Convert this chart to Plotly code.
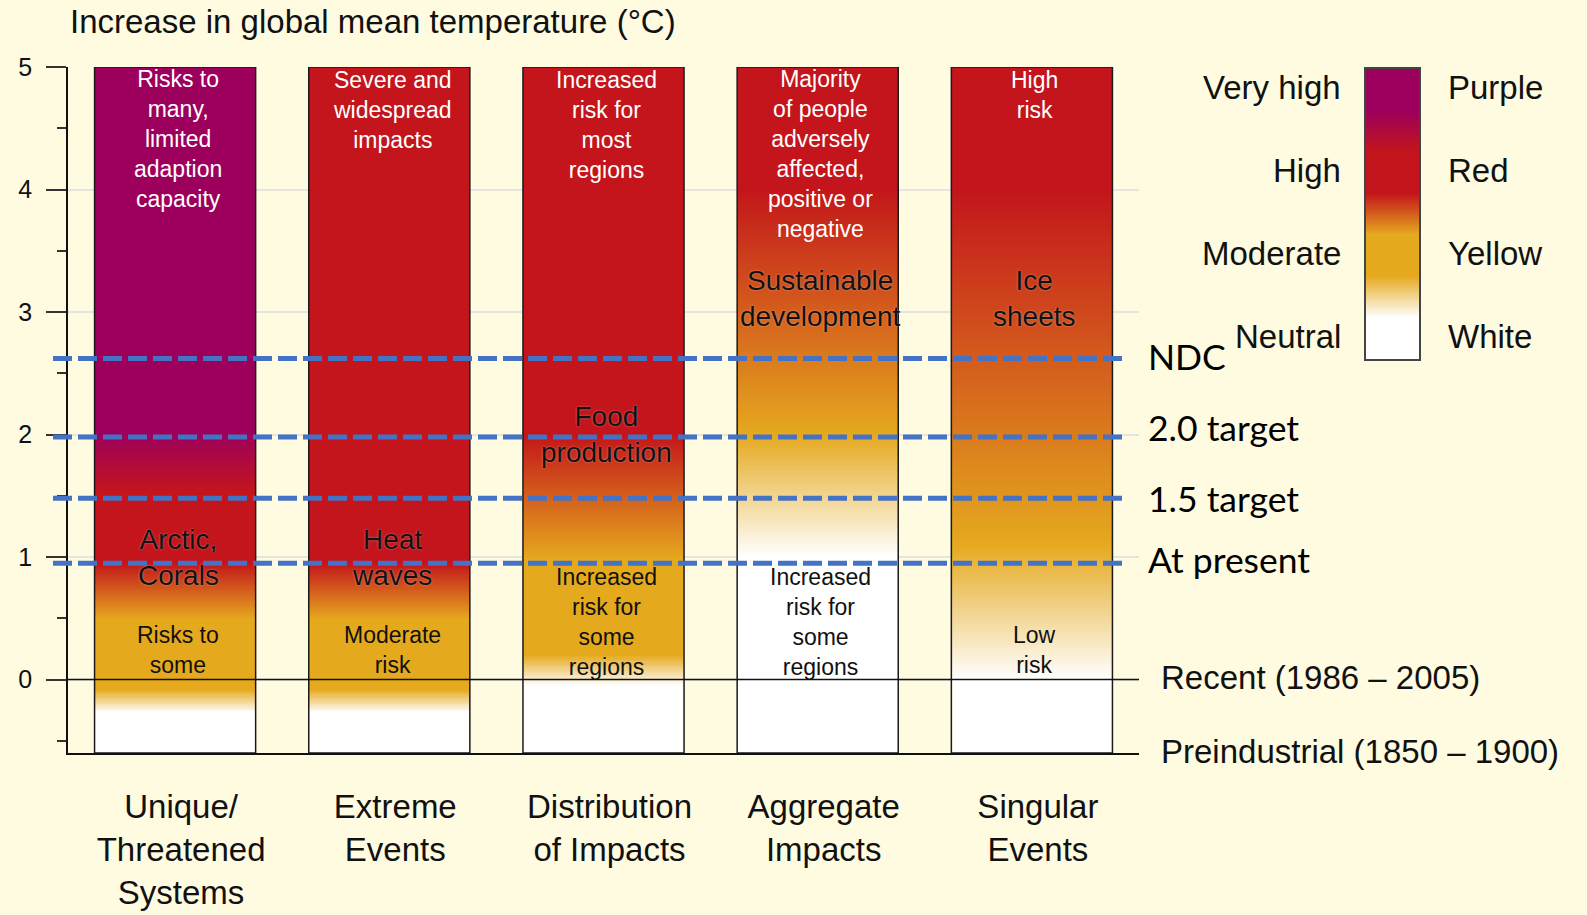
import numpy as np
import plotly.graph_objects as go

W, H = 1587, 915
BG = "#FEFBE1"
WHITE = "#FFFFFF"
YELLOW = "#E5A91E"
RED = "#C3151B"
PURPLE = "#9C005C"

# ---------------- data ----------------
categories = ["Unique/<br>Threatened<br>Systems", "Extreme<br>Events",
              "Distribution<br>of Impacts", "Aggregate<br>Impacts", "Singular<br>Events"]
T_BOTTOM, T_TOP = -0.6, 5.0
y_ticks = [0, 1, 2, 3, 4, 5]

# risk level knots (0 neutral/white, 1 moderate/yellow, 2 high/red, 3 very high/purple)
unique_T = [-0.6, -0.27, -0.08, 0.49, 0.95, 1.53, 2.01, 5.0]
unique_risk = [0, 0, 1, 1, 2, 2, 3, 3]
extreme_T = [-0.6, -0.27, -0.08, 0.49, 0.95, 5.0]
extreme_risk = [0, 0, 1, 1, 2, 2]
distribution_T = [-0.6, -0.05, 0.2, 0.98, 2.0, 5.0]
distribution_risk = [0, 0, 1, 1, 2, 2]
aggregate_T = [-0.6, 1.0, 2.0, 4.0, 5.0]
aggregate_risk = [0, 0, 1, 2, 2]
singular_T = [-0.6, 0.0, 1.1, 4.0, 5.0]
singular_risk = [0, 0, 1, 2, 2]

scenario_names = ["NDC", "2.0 target", "1.5 target", "At present"]
scenario_T = [2.62, 1.98, 1.48, 0.95]
scenario_label_T = [2.64, 2.06, 1.48, 0.98]

reference_names = ["Recent (1986 – 2005)", "Preindustrial (1850 – 1900)"]
reference_T = [0.02, -0.59]

legend_levels = ["Neutral", "Moderate", "High", "Very high"]
legend_colors = ["White", "Yellow", "Red", "Purple"]
legend_pos = [0, 1, 2, 3, 4, 5, 6, 7]
legend_risk = [0, 0, 1, 1, 2, 2, 3, 3]

top_texts = ["Risks to<br>many,<br>limited<br>adaption<br>capacity",
             "Severe and<br>widespread<br>impacts",
             "Increased<br>risk for<br>most<br>regions",
             "Majority<br>of people<br>adversely<br>affected,<br>positive or<br>negative",
             "High<br>risk"]
top_T = [4.41, 4.65, 4.53, 4.29, 4.77]
mid_texts = ["Arctic,<br>Corals", "Heat<br>waves", "Food<br>production",
             "Sustainable<br>development", "Ice<br>sheets"]
mid_T = [1.0, 1.0, 2.0, 3.11, 3.11]
low_texts = ["Risks to<br>some", "Moderate<br>risk", "Increased<br>risk for<br>some<br>regions",
             "Increased<br>risk for<br>some<br>regions", "Low<br>risk"]
low_T = [0.237, 0.237, 0.47, 0.47, 0.237]

# ---------------- geometry ----------------
def px_x(p):
    return p / W

def px_y(p):
    return 1 - p / H

X_L, X_R, Y_T, Y_B = 68, 1139, 67, 753
BAR_W = 0.752

colorscale = [[0, WHITE], [1 / 3, YELLOW], [2 / 3, RED], [1, PURPLE]]

fig = go.Figure()

edges = np.linspace(T_BOTTOM, T_TOP, 561)
centers = (edges[:-1] + edges[1:]) / 2
knots = [(unique_T, unique_risk), (extreme_T, extreme_risk), (distribution_T, distribution_risk),
         (aggregate_T, aggregate_risk), (singular_T, singular_risk)]
for i, (kt, kr) in enumerate(knots):
    z = np.interp(centers, kt, kr).reshape(-1, 1)
    fig.add_trace(go.Heatmap(
        x=[i - BAR_W / 2, i + BAR_W / 2], y=edges, z=z,
        colorscale=colorscale, zmin=0, zmax=3, showscale=False,
        hoverinfo="skip", xaxis="x", yaxis="y"))

fig.add_trace(go.Bar(
    x=list(range(len(categories))), y=[T_TOP - T_BOTTOM] * len(categories), base=T_BOTTOM,
    width=BAR_W, marker=dict(color="rgba(0,0,0,0)", line=dict(color="#1a1a1a", width=1.5)),
    hoverinfo="skip", showlegend=False, xaxis="x", yaxis="y"))

lg_edges = np.linspace(0, 7, 701)
lg_centers = (lg_edges[:-1] + lg_edges[1:]) / 2
lg_z = np.interp(lg_centers, legend_pos, legend_risk).reshape(-1, 1)
fig.add_trace(go.Heatmap(x=[0, 1], y=lg_edges, z=lg_z, colorscale=colorscale, zmin=0, zmax=3,
                         showscale=False, hoverinfo="skip", xaxis="x2", yaxis="y2"))

shapes = []
shapes.append(dict(type="line", xref="paper", yref="y", x0=px_x(X_L), x1=px_x(X_R), y0=0, y1=0,
                   line=dict(color="#111", width=1.5), layer="above"))
for t in scenario_T:
    shapes.append(dict(type="line", xref="paper", yref="y", x0=px_x(53), x1=px_x(1127), y0=t, y1=t,
                       line=dict(color="#4472C4", width=5, dash="19px,6px"), layer="above"))

ann = []
ann.append(dict(text="Increase in global mean temperature (°C)", xref="paper", yref="paper",
                x=px_x(68), y=px_y(22), xanchor="left", yanchor="middle", showarrow=False,
                font=dict(size=33, color="#111")))
for i in range(len(categories)):
    ann.append(dict(text=top_texts[i], x=i, y=top_T[i], xref="x", yref="y", showarrow=False,
                    xanchor="center", yanchor="middle", xshift=3, font=dict(size=23, color="white")))
    ann.append(dict(text=mid_texts[i], x=i, y=mid_T[i], xref="x", yref="y", showarrow=False,
                    xanchor="center", yanchor="middle", xshift=3,
                    font=dict(size=28, color="#111", shadow="0px 0px 2px rgba(255,255,255,0.45)")))
    ann.append(dict(text=low_texts[i], x=i, y=low_T[i], xref="x", yref="y", showarrow=False,
                    xanchor="center", yanchor="middle", xshift=3, font=dict(size=23, color="#111")))
for name, t in zip(scenario_names, scenario_label_T):
    ann.append(dict(text=name, x=px_x(1146), y=t, xref="paper", yref="y", showarrow=False,
                    xanchor="left", yanchor="middle", font=dict(size=35.5, color="#000", family="Lato")))
for name, t in zip(reference_names, reference_T):
    ann.append(dict(text=name, x=px_x(1159), y=t, xref="paper", yref="y", showarrow=False,
                    xanchor="left", yanchor="middle", font=dict(size=33, color="#111")))
for k, (lvl, col) in enumerate(zip(legend_levels, legend_colors)):
    pos = 2 * k + 0.55
    ann.append(dict(text=lvl, x=px_x(1343), y=pos, xref="paper", yref="y2", showarrow=False,
                    xanchor="right", yanchor="middle", font=dict(size=33, color="#111")))
    ann.append(dict(text=col, x=px_x(1446), y=pos, xref="paper", yref="y2", showarrow=False,
                    xanchor="left", yanchor="middle", font=dict(size=33, color="#111")))

fig.update_layout(
    width=W, height=H, margin=dict(l=0, r=0, t=0, b=0, autoexpand=False),
    paper_bgcolor=BG, plot_bgcolor=BG, showlegend=False,
    font=dict(family="Liberation Sans, Arial, sans-serif", color="#111"),
    shapes=shapes, annotations=ann,
    xaxis=dict(domain=[px_x(X_L), px_x(X_R)], range=[-0.5, 4.5], anchor="y", automargin=False,
               showline=True, linecolor="#111", linewidth=1.5, showgrid=False, zeroline=False,
               tickvals=list(range(len(categories))), ticktext=categories, ticks="",
               tickfont=dict(size=33, color="#111"), ticklabelstandoff=24, ticklabelshift=6,
               fixedrange=True),
    yaxis=dict(domain=[1 - Y_B / H, 1 - Y_T / H], range=[T_BOTTOM, T_TOP], anchor="x",
               automargin=False,
               showline=True, linecolor="#111", linewidth=1.5, showgrid=True, gridcolor="#E4E4E0",
               gridwidth=2, zeroline=False, tickvals=y_ticks, ticks="outside", ticklen=20,
               tickwidth=1.5, tickcolor="#333", tickfont=dict(size=25, color="#111"),
               ticklabelstandoff=9,
               minor=dict(dtick=0.5, tick0=0, ticks="outside", ticklen=9, tickwidth=1.5,
                          tickcolor="#333", showgrid=False)),
    xaxis2=dict(domain=[px_x(1366), px_x(1419)], range=[0, 1], anchor="y2", automargin=False,
                showticklabels=False, ticks="", showgrid=False, zeroline=False,
                showline=True, mirror=True, linecolor="#444", linewidth=2),
    yaxis2=dict(domain=[px_y(359), px_y(69)], range=[0, 7], anchor="x2", automargin=False,
                showticklabels=False, ticks="", showgrid=False, zeroline=False,
                showline=True, mirror=True, linecolor="#444", linewidth=2),
)

post = ("document.documentElement.style.margin='0';document.body.style.margin='0';"
        "document.body.style.overflow='hidden';document.body.style.background='" + BG + "';"
        "var d=document.getElementById('{plot_id}');d.style.position='absolute';"
        "d.style.left='0px';d.style.top='0px';")
fig.write_html("out.html", post_script=post, config={"displayModeBar": False})
